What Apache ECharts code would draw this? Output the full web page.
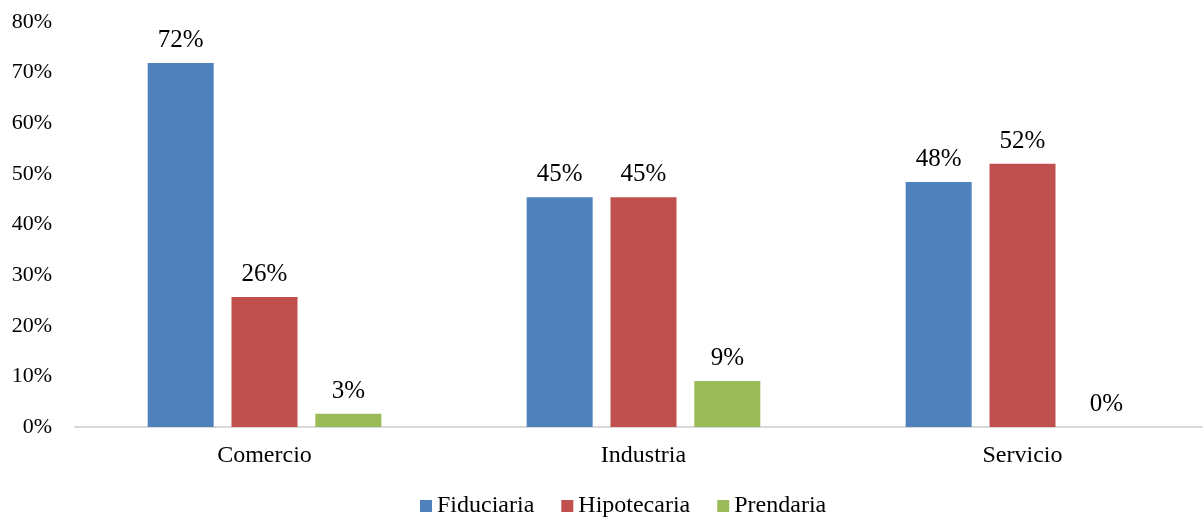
<!DOCTYPE html>
<html>
<head>
<meta charset="utf-8">
<script src="https://cdn.jsdelivr.net/npm/echarts@6/dist/echarts.min.js"></script>
<style>
  html, body { margin: 0; padding: 0; background: #fff; }
  #chart { width: 1203px; height: 517px; }
</style>
</head>
<body>
<div id="chart"></div>
<script>
// datos (porcentaje)
const categorias = ['Comercio', 'Industria', 'Servicio'];
const fiduciaria = [71.9, 45.4, 48.4];
const hipotecaria = [25.7, 45.4, 52.0];
const prendaria = [2.6, 9.1, 0];
const ticksY = [0, 10, 20, 30, 40, 50, 60, 70, 80];

const fuente = '"Liberation Serif", "Times New Roman", serif';
const chart = echarts.init(document.getElementById('chart'), null, { renderer: 'canvas' });

const etiqueta = {
  show: true,
  position: 'top',
  distance: 10,
  color: '#000',
  fontFamily: fuente,
  fontSize: 25,
  formatter: p => Math.round(p.value) + '%'
};

function serie(nombre, datos, color) {
  return {
    name: nombre,
    type: 'bar',
    data: datos,
    barWidth: 66,
    barGap: '27%',
    itemStyle: { color: color },
    label: etiqueta
  };
}

chart.setOption({
  animation: false,
  textStyle: { fontFamily: fuente },
  grid: { left: 75, top: 22, width: 1137, height: 405, outerBoundsMode: 'none' },
  legend: {
    top: 489,
    left: 415,
    itemWidth: 12,
    itemHeight: 12,
    itemGap: 27,
    icon: 'rect',
    textStyle: { fontFamily: fuente, fontSize: 24, color: '#000' },
    data: ['Fiduciaria', 'Hipotecaria', 'Prendaria']
  },
  xAxis: {
    type: 'category',
    data: categorias,
    axisLine: { lineStyle: { color: '#d9d9d9', width: 2 } },
    axisTick: { show: false },
    axisLabel: { color: '#000', fontFamily: fuente, fontSize: 24, margin: 17 }
  },
  yAxis: {
    type: 'value',
    min: ticksY[0],
    max: ticksY[ticksY.length - 1],
    interval: 10,
    splitLine: { show: false },
    axisLine: { show: false },
    axisTick: { show: false },
    axisLabel: { color: '#000', fontFamily: fuente, fontSize: 22, margin: 23, formatter: '{value}%' }
  },
  series: [
    serie('Fiduciaria', fiduciaria, '#4f81bd'),
    serie('Hipotecaria', hipotecaria, '#c0504d'),
    serie('Prendaria', prendaria, '#9bbb59')
  ]
});
</script>
</body>
</html>
